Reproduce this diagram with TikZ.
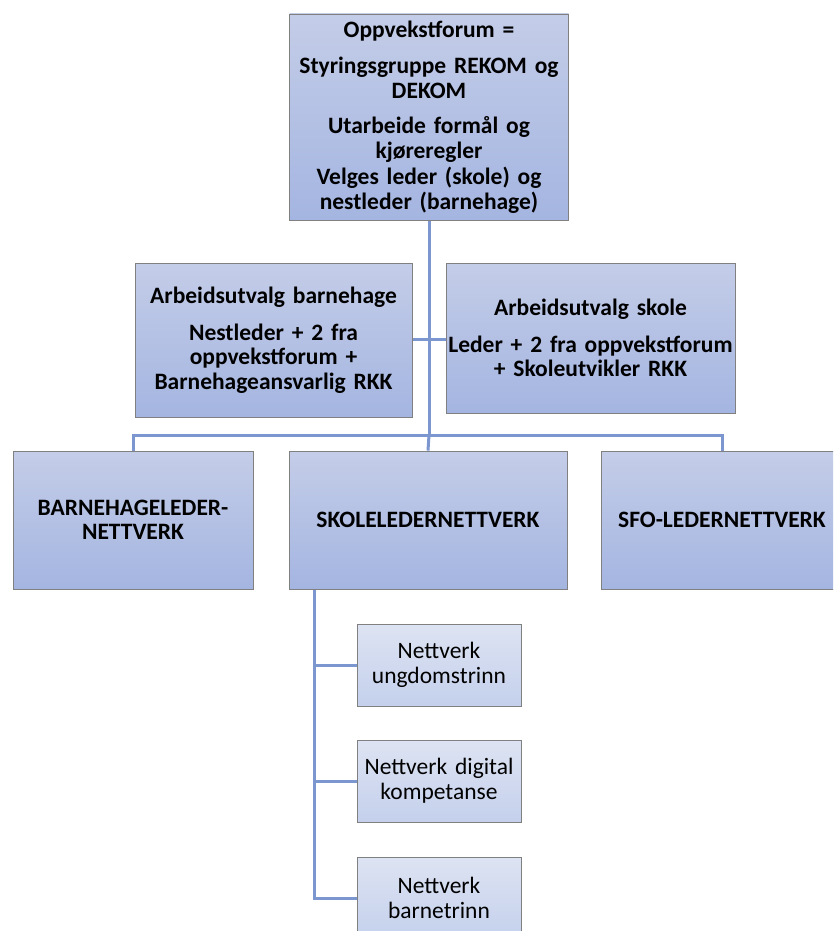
\documentclass[tikz,border=0pt]{standalone}
\usepackage{fontspec}
\setmainfont{Carlito}
\usetikzlibrary{backgrounds}
\definecolor{linec}{RGB}{124,150,207}
\definecolor{boxtop}{RGB}{196,205,232}
\definecolor{boxbot}{RGB}{164,181,225}
\definecolor{subtop}{RGB}{221,227,242}
\definecolor{subbot}{RGB}{196,208,236}
\definecolor{edgec}{RGB}{128,128,128}
\tikzset{
  mainbox/.style={draw=edgec, line width=0.9pt, top color=boxtop, bottom color=boxbot,
    align=center, inner sep=0pt, font=\fontsize{23.5}{24.5}\selectfont\bfseries},
  subbox/.style={draw=edgec, line width=0.9pt, top color=subtop, bottom color=subbot,
    align=center, inner sep=0pt, minimum width=164pt, minimum height=82pt, text width=162pt,
    font=\fontsize{23.5}{25}\selectfont},
  conn/.style={draw=linec, line width=3pt}
}
\begin{document}
\begin{tikzpicture}[x=1pt,y=-1pt]
\useasboundingbox (0,0) rectangle (833,931);
\clip (0,0) rectangle (833,931);

\node[mainbox, minimum width=279pt, minimum height=206pt, text width=279pt] (top) at (429,117)
  {Oppvekstforum =\\[12pt] Styringsgruppe REKOM og\\ DEKOM\\[11pt] Utarbeide formål og\\ kjøreregler\\[2pt] Velges leder (skole) og\\ nestleder (barnehage)};

\node[mainbox, minimum width=277pt, minimum height=154pt, text width=277pt] (aub) at (273.5,340)
  {Arbeidsutvalg barnehage\\[12pt] Nestleder + 2 fra\\ oppvekstforum +\\ Barnehageansvarlig RKK};

\node[mainbox, minimum width=289pt, minimum height=150pt, text width=289pt] (aus) at (590.5,338)
  {Arbeidsutvalg skole\\[12pt] Leder + 2 fra oppvekstforum\\ + Skoleutvikler RKK};

\node[mainbox, minimum width=240pt, minimum height=138pt, text width=240pt] (bhn) at (133,520)
  {BARNEHAGELEDER-\\ NETTVERK};
\node[mainbox, minimum width=278pt, minimum height=138pt, text width=278pt] (skn) at (428,520)
  {SKOLELEDERNETTVERK};
\node[mainbox, minimum width=242pt, minimum height=138pt, text width=242pt] (sfo) at (722,520)
  {SFO-LEDERNETTVERK};

\node[subbox] (ung) at (439,665) {Nettverk\\ ungdomstrinn};
\node[subbox] (dig) at (439,781) {Nettverk digital\\ kompetanse};
\node[subbox] (bar) at (439,898) {Nettverk\\ barnetrinn};

\begin{scope}[on background layer]
\fill[white] (0,0) rectangle (833,931);
\coordinate (barc) at (top.south |- 0,435);
\coordinate (mid) at (top.south |- 0,339);
\coordinate (lbar) at (bhn.north |- 0,435);
\coordinate (rbar) at (sfo.north |- 0,435);
\coordinate (sk) at ([xshift=26pt]skn.south west);
\draw[conn] (top.south) -- (barc);
\draw[conn] (aub.east |- mid) -- (aus.west |- mid);
\draw[conn] (bhn.north) -- (lbar) -- (rbar) -- (sfo.north);
\draw[conn] (barc) -- (skn.north);
\draw[conn] (sk) |- (bar.west);
\draw[conn] (sk |- ung.west) -- (ung.west);
\draw[conn] (sk |- dig.west) -- (dig.west);
\end{scope}
\end{tikzpicture}
\end{document}
